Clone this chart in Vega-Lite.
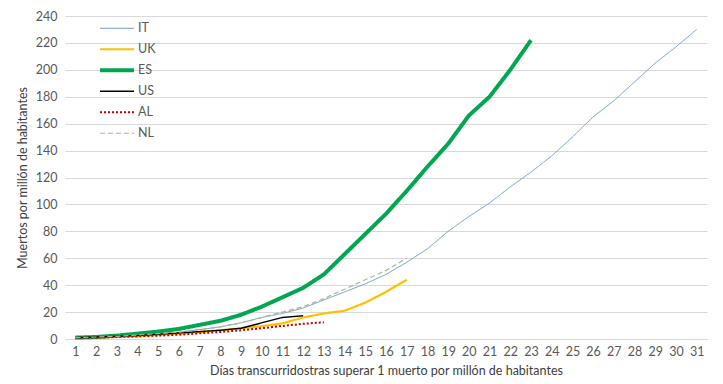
{
  "$schema": "https://vega.github.io/schema/vega-lite/v6.json",
  "width": 642,
  "height": 323,
  "autosize": "none",
  "padding": {"left": 65, "top": 16, "right": 16, "bottom": 45},
  "background": "white",
  "config": {
    "view": {"stroke": null},
    "font": "Lato",
    "axis": {"labelFont": "Lato", "titleFont": "Lato", "labelColor": "#595959", "titleColor": "#404040", "labelFontSize": 12.5, "titleFontSize": 12.5, "titleFontWeight": "normal"},
    "legend": {"labelFont": "Lato", "labelFontSize": 12.5, "labelColor": "#595959"}
  },
  "data": {"values": [
    {"pais":"IT","dia":1,"v":1},{"pais":"IT","dia":2,"v":1.5},{"pais":"IT","dia":3,"v":2},{"pais":"IT","dia":4,"v":3},{"pais":"IT","dia":5,"v":4},{"pais":"IT","dia":6,"v":5},{"pais":"IT","dia":7,"v":7},{"pais":"IT","dia":8,"v":9},{"pais":"IT","dia":9,"v":12},{"pais":"IT","dia":10,"v":16},{"pais":"IT","dia":11,"v":19},{"pais":"IT","dia":12,"v":23},{"pais":"IT","dia":13,"v":29},{"pais":"IT","dia":14,"v":35},{"pais":"IT","dia":15,"v":41},{"pais":"IT","dia":16,"v":48},{"pais":"IT","dia":17,"v":57},{"pais":"IT","dia":18,"v":67},{"pais":"IT","dia":19,"v":80},{"pais":"IT","dia":20,"v":91},{"pais":"IT","dia":21,"v":101},{"pais":"IT","dia":22,"v":113},{"pais":"IT","dia":23,"v":124},{"pais":"IT","dia":24,"v":136},{"pais":"IT","dia":25,"v":150},{"pais":"IT","dia":26,"v":165},{"pais":"IT","dia":27,"v":177},{"pais":"IT","dia":28,"v":191},{"pais":"IT","dia":29,"v":205},{"pais":"IT","dia":30,"v":217},{"pais":"IT","dia":31,"v":230},
    {"pais":"UK","dia":1,"v":1},{"pais":"UK","dia":2,"v":1},{"pais":"UK","dia":3,"v":1.5},{"pais":"UK","dia":4,"v":2},{"pais":"UK","dia":5,"v":3},{"pais":"UK","dia":6,"v":4},{"pais":"UK","dia":7,"v":5.2},{"pais":"UK","dia":8,"v":6.5},{"pais":"UK","dia":9,"v":8},{"pais":"UK","dia":10,"v":9.5},{"pais":"UK","dia":11,"v":11.6},{"pais":"UK","dia":12,"v":16},{"pais":"UK","dia":13,"v":19},{"pais":"UK","dia":14,"v":21},{"pais":"UK","dia":15,"v":27},{"pais":"UK","dia":16,"v":35},{"pais":"UK","dia":17,"v":44},
    {"pais":"ES","dia":1,"v":1},{"pais":"ES","dia":2,"v":1.5},{"pais":"ES","dia":3,"v":2.5},{"pais":"ES","dia":4,"v":4},{"pais":"ES","dia":5,"v":5.5},{"pais":"ES","dia":6,"v":7.5},{"pais":"ES","dia":7,"v":10.5},{"pais":"ES","dia":8,"v":13.5},{"pais":"ES","dia":9,"v":18},{"pais":"ES","dia":10,"v":24},{"pais":"ES","dia":11,"v":31},{"pais":"ES","dia":12,"v":38},{"pais":"ES","dia":13,"v":48},{"pais":"ES","dia":14,"v":63},{"pais":"ES","dia":15,"v":78},{"pais":"ES","dia":16,"v":93},{"pais":"ES","dia":17,"v":110},{"pais":"ES","dia":18,"v":128},{"pais":"ES","dia":19,"v":145},{"pais":"ES","dia":20,"v":166},{"pais":"ES","dia":21,"v":180},{"pais":"ES","dia":22,"v":200},{"pais":"ES","dia":23,"v":222},
    {"pais":"US","dia":1,"v":1},{"pais":"US","dia":2,"v":1.5},{"pais":"US","dia":3,"v":2},{"pais":"US","dia":4,"v":2.5},{"pais":"US","dia":5,"v":3.5},{"pais":"US","dia":6,"v":4.5},{"pais":"US","dia":7,"v":5.5},{"pais":"US","dia":8,"v":6.5},{"pais":"US","dia":9,"v":8},{"pais":"US","dia":10,"v":12},{"pais":"US","dia":11,"v":16},{"pais":"US","dia":12,"v":17.3},
    {"pais":"AL","dia":1,"v":1},{"pais":"AL","dia":2,"v":1},{"pais":"AL","dia":3,"v":1.5},{"pais":"AL","dia":4,"v":2},{"pais":"AL","dia":5,"v":2.5},{"pais":"AL","dia":6,"v":3.2},{"pais":"AL","dia":7,"v":4.2},{"pais":"AL","dia":8,"v":5.2},{"pais":"AL","dia":9,"v":6.5},{"pais":"AL","dia":10,"v":8},{"pais":"AL","dia":11,"v":9.7},{"pais":"AL","dia":12,"v":11.3},{"pais":"AL","dia":13,"v":12.4},
    {"pais":"NL","dia":1,"v":1},{"pais":"NL","dia":2,"v":1.5},{"pais":"NL","dia":3,"v":2},{"pais":"NL","dia":4,"v":3},{"pais":"NL","dia":5,"v":4},{"pais":"NL","dia":6,"v":5},{"pais":"NL","dia":7,"v":7},{"pais":"NL","dia":8,"v":9},{"pais":"NL","dia":9,"v":12},{"pais":"NL","dia":10,"v":16},{"pais":"NL","dia":11,"v":20},{"pais":"NL","dia":12,"v":24},{"pais":"NL","dia":13,"v":30},{"pais":"NL","dia":14,"v":37},{"pais":"NL","dia":15,"v":44},{"pais":"NL","dia":16,"v":51},{"pais":"NL","dia":17,"v":60}
  ]},
  "mark": {"type": "line", "strokeCap": "butt"},
  "encoding": {
    "x": {
      "field": "dia", "type": "quantitative",
      "scale": {"domain": [0.5, 31.5], "nice": false, "zero": false},
      "axis": {"values": [1,2,3,4,5,6,7,8,9,10,11,12,13,14,15,16,17,18,19,20,21,22,23,24,25,26,27,28,29,30,31], "grid": false, "ticks": false, "domain": true, "domainColor": "#D9D9D9", "labelPadding": 6, "title": "Días transcurridostras superar 1 muerto por millón de habitantes", "titlePadding": 7}
    },
    "y": {
      "field": "v", "type": "quantitative",
      "scale": {"domain": [0, 240], "nice": false},
      "axis": {"values": [0,20,40,60,80,100,120,140,160,180,200,220,240], "grid": true, "gridColor": "#D9D9D9", "ticks": false, "domain": false, "labelPadding": 8, "title": "Muertos por millón de habitantes", "titlePadding": 6}
    },
    "color": {
      "field": "pais", "type": "nominal",
      "scale": {"domain": ["IT","UK","ES","US","AL","NL"], "range": ["#6E9CCF","#FFC000","#00A650","#000000","#C00000","#A9B890"]},
      "legend": {"title": null, "orient": "none", "legendX": 33, "legendY": 2, "symbolType": "stroke", "symbolSize": 1156, "clipHeight": 20.5, "rowPadding": 0, "labelOffset": 2}
    },
    "strokeWidth": {
      "field": "pais", "type": "nominal",
      "scale": {"type": "ordinal", "domain": ["IT","UK","ES","US","AL","NL"], "range": [1, 2.2, 4, 1.4, 2, 1.2]},
      "legend": {"title": null, "orient": "none", "legendX": 33, "legendY": 2}
    },
    "strokeDash": {
      "field": "pais", "type": "nominal",
      "scale": {"domain": ["IT","UK","ES","US","AL","NL"], "range": [[1,0],[1,0],[1,0],[1,0],[2,2],[5,3]]},
      "legend": {"title": null, "orient": "none", "legendX": 33, "legendY": 2}
    }
  }
}
